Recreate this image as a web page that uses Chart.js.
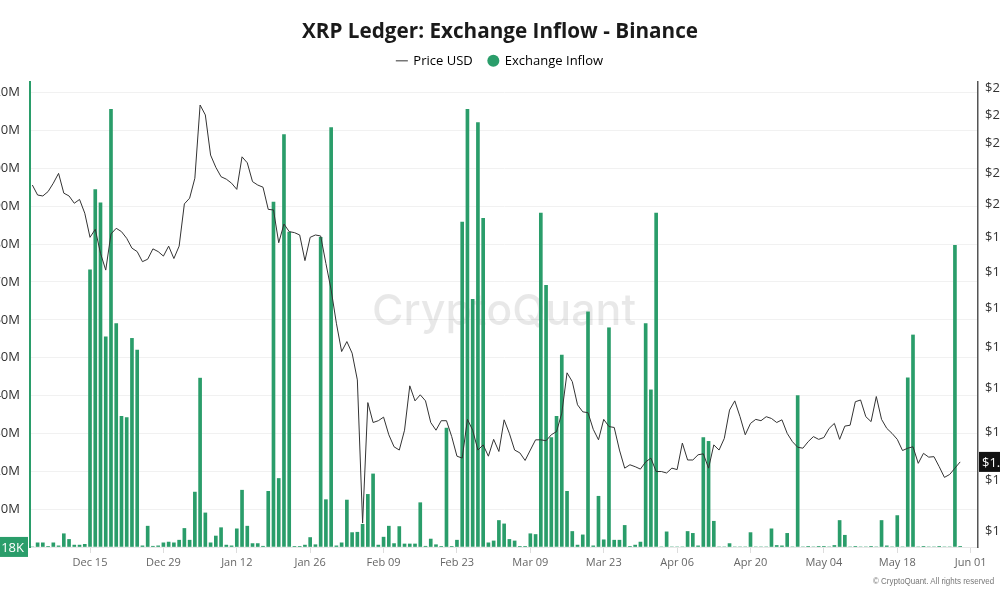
<!DOCTYPE html>
<html><head><meta charset="utf-8">
<script src="https://cdn.jsdelivr.net/npm/chart.js@4.4.1/dist/chart.umd.min.js"></script>
<style>
html,body{margin:0;padding:0;background:#fff;overflow:hidden;width:1000px;height:600px}
#frame{position:relative;width:1000px;height:600px;overflow:hidden;background:#fff}
#wrap{position:absolute;left:-60px;top:0;width:1120px;height:600px}
#foot{position:absolute;left:873px;top:575px;font:9.5px 'Liberation Sans',Arial,sans-serif;color:#777;white-space:nowrap;transform:scaleX(0.84);transform-origin:left top}
</style></head><body>
<div id="frame"><div id="wrap"><canvas id="c"></canvas></div><div id="foot">© CryptoQuant. All rights reserved</div></div>
<script>
const startDate = '2025-12-04';
const axisOrigin = '2025-12-15';
const xTickLabels = ['Dec 15','Dec 29','Jan 12','Jan 26','Feb 09','Feb 23','Mar 09','Mar 23','Apr 06','Apr 20','May 04','May 18','Jun 01'];
const leftTicksM = [0,10,20,30,40,50,60,70,80,90,100,110,120];
const rightTicks = [1.2,1.3,1.4,1.5,1.6,1.7,1.8,1.9,2.0,2.1,2.2,2.3,2.4];

// Exchange inflow, millions XRP, one value per day from startDate
const inflowM = [0,
1.1,1.1,0.1,1.1,0.3,3.5,2.0,0.5,0.5,0.7,
73.2,94.4,90.9,55.5,115.6,59.0,34.5,34.2,55.1,52.0,
0.3,5.5,0.2,0.3,1.1,1.3,1.1,1.8,4.9,1.8,
14.5,44.6,9.0,1.1,2.9,5.1,0.5,0.3,4.8,15.0,
5.5,0.9,0.9,0.2,14.7,91.1,18.1,108.9,83.2,0.1,
0.1,0.5,2.5,0.6,81.8,12.5,110.8,0.3,1.1,12.4,
3.8,3.9,6.0,13.9,19.3,0.5,2.6,5.5,0.9,5.4,
0.8,0.8,0.8,11.7,0.2,2.1,0.6,0.1,31.4,0.1,
1.8,85.8,115.6,65.4,112.1,86.8,1.1,1.6,7.0,6.1,
2.0,1.6,0.1,0.1,3.5,3.3,88.2,69.1,28.9,34.5,
50.7,14.7,4.1,0.5,3.2,62.1,0.3,13.4,1.9,57.9,
1.8,1.8,5.7,0.1,0.5,1.3,59.0,41.5,88.2,0,
4.0,0,0,0,4.1,3.6,0.3,28.9,27.9,6.8,
0,0,0.9,0,0,0,3.8,0,0,0,
4.8,0.4,0.3,3.6,0,40.0,0,0.1,0,0.1,
0.1,0,0.4,7.0,3.1,0,0.1,0,0,0.1,
0,7.0,0.3,0,8.3,0,44.7,56.0,0,0.1,
0,0,0.1,0,0,79.7,0.018];

// XRP price in USD, one value per day from startDate
const priceUSD = [2.062,
2.030,2.027,2.041,2.068,2.100,2.036,2.027,2.004,2.016,1.973,
1.900,1.924,1.853,1.805,1.910,1.927,1.917,1.897,1.868,1.858,
1.829,1.836,1.866,1.858,1.845,1.874,1.838,1.874,2.002,2.020,
2.084,2.337,2.301,2.161,2.120,2.089,2.081,2.068,2.048,2.155,
2.135,2.073,2.062,2.055,1.985,1.983,1.884,1.940,1.917,1.914,
1.907,1.832,1.900,1.907,1.904,1.824,1.750,1.661,1.589,1.614,
1.585,1.520,1.215,1.467,1.422,1.426,1.434,1.395,1.369,1.362,
1.405,1.506,1.471,1.485,1.471,1.422,1.405,1.426,1.426,1.391,
1.349,1.345,1.429,1.405,1.362,1.373,1.349,1.385,1.359,1.428,
1.398,1.362,1.356,1.340,1.362,1.384,1.384,1.382,1.395,1.402,
1.443,1.537,1.516,1.462,1.446,1.444,1.407,1.384,1.429,1.413,
1.411,1.362,1.324,1.331,1.327,1.322,1.337,1.345,1.317,1.317,
1.314,1.324,1.321,1.377,1.341,1.341,1.352,1.354,1.324,1.373,
1.362,1.387,1.450,1.471,1.435,1.395,1.420,1.429,1.426,1.435,
1.431,1.422,1.428,1.398,1.380,1.368,1.366,1.380,1.391,1.385,
1.389,1.409,1.420,1.385,1.414,1.416,1.469,1.473,1.435,1.424,
1.481,1.429,1.409,1.398,1.385,1.361,1.366,1.369,1.334,1.355,
1.347,1.348,1.327,1.305,1.311,1.324,1.337];

const green = '#2a9d6a';
const DAY = 86400000;
const t0 = Date.parse(startDate + 'T00:00:00Z');
const tO = Date.parse(axisOrigin + 'T00:00:00Z');
const dayX = inflowM.map((_, k) => Math.round((t0 + k * DAY - tO) / DAY));
const barData = inflowM.map((v, k) => ({x: dayX[k], y: v}));
const lineData = priceUSD.map((v, k) => ({x: dayX[k], y: v}));
const xTickDays = xTickLabels.map((_, k) => 14 * k);

const fmtInflow = v => v >= 1 ? v.toFixed(1) + 'M' : Math.round(v * 1000) + 'K';

const overlay = {
  id: 'overlay',
  beforeDatasetsDraw(chart) {
    const {ctx, chartArea: a} = chart;
    ctx.save();
    ctx.font = '500 43px Inter, "Open Sans", sans-serif';
    ctx.fillStyle = 'rgba(0,0,0,0.09)';
    ctx.textAlign = 'center';
    ctx.textBaseline = 'middle';
    ctx.fillText('CryptoQuant', (a.left + a.right) / 2, (a.top + a.bottom) / 2 - 2);
    ctx.restore();
  },
  afterDraw(chart) {
    const {ctx, chartArea: a, scales} = chart;
    ctx.save();
    const lastIn = inflowM[inflowM.length - 1];
    const yIn = scales.y.getPixelForValue(lastIn);
    ctx.fillStyle = green;
    ctx.fillRect(a.left - 64, yIn - 10, 62, 20);
    ctx.fillStyle = '#fff';
    ctx.font = '13px "Open Sans", sans-serif';
    ctx.textAlign = 'right';
    ctx.textBaseline = 'middle';
    ctx.fillText(fmtInflow(lastIn), a.left - 6, yIn + 1);
    const lastP = priceUSD[priceUSD.length - 1];
    const yP = scales.y1.getPixelForValue(lastP);
    ctx.fillStyle = '#111';
    ctx.fillRect(a.right + 1, yP - 10, 70, 20);
    ctx.fillStyle = '#fff';
    ctx.textAlign = 'left';
    ctx.fillText('$' + lastP.toFixed(2), a.right + 4, yP + 1);
    ctx.restore();
  }
};

new Chart(document.getElementById('c'), {
  type: 'bar',
  data: {
    datasets: [
      {type: 'line', label: 'Price USD', data: lineData, xAxisID: 'x', yAxisID: 'y1',
       borderColor: '#333', borderWidth: 1, pointRadius: 0, tension: 0, fill: false, order: 0},
      {type: 'bar', label: 'Exchange Inflow', data: barData, xAxisID: 'x', yAxisID: 'y',
       backgroundColor: green, borderWidth: 0, barThickness: 3, order: 1}
    ]
  },
  options: {
    responsive: true, maintainAspectRatio: false, animation: false, devicePixelRatio: 1,
    layout: {padding: 0},
    plugins: {
      tooltip: {enabled: false},
      title: {display: true, text: 'XRP Ledger: Exchange Inflow - Binance', color: '#1a1a1a',
        font: {family: '"Open Sans", sans-serif', size: 20.7, weight: 'bold'}, padding: {top: 20, bottom: 4}},
      legend: {display: true, position: 'top',
        labels: {usePointStyle: true, boxWidth: 10, boxHeight: 8.5, padding: 5.5, color: '#333',
          font: {family: '"Open Sans", sans-serif', size: 13},
          generateLabels: () => [
            {text: 'Price USD   ', pointStyle: 'line', strokeStyle: '#333', fillStyle: '#333', lineWidth: 1, hidden: false, datasetIndex: 0},
            {text: 'Exchange Inflow', pointStyle: 'circle', strokeStyle: green, fillStyle: green, lineWidth: 0, hidden: false, datasetIndex: 1}
          ]}}
    },
    scales: {
      gap: {type: 'linear', position: 'top', display: true,
        afterFit: s => { s.height = 4.7; },
        grid: {display: false, drawTicks: false}, ticks: {display: false}, border: {display: false}},
      x: {type: 'linear', min: -11.45, max: 169.4, offset: false,
        afterFit: s => { s.height = 53; },
        afterBuildTicks: s => { s.ticks = xTickDays.map(v => ({value: v})); },
        ticks: {callback: (v, i) => xTickLabels[i], autoSkip: false, maxRotation: 0, padding: 3, color: '#666',
          font: {family: '"Open Sans", sans-serif', size: 11}},
        grid: {display: true, offset: false, drawOnChartArea: false, drawTicks: true, tickLength: 6, color: '#ddd'},
        border: {display: true, color: '#e8e8e8'}},
      y: {type: 'linear', position: 'left', min: 0, max: 122.8,
        afterFit: s => { s.width = 90; },
        afterBuildTicks: s => { s.ticks = leftTicksM.map(v => ({value: v})); },
        ticks: {callback: v => v === 0 ? '' : v + 'M', autoSkip: false, padding: 10, color: '#333',
          font: {family: '"Open Sans", sans-serif', size: 13}},
        grid: {color: '#f1f1f1', drawTicks: false},
        border: {color: green, width: 2}},
      y1: {type: 'logarithmic', position: 'right', min: 1.1703, max: 2.4226,
        afterFit: s => { s.width = 82; },
        afterBuildTicks: s => { s.ticks = rightTicks.map(v => ({value: v})); },
        ticks: {callback: v => '$' + Number(v).toFixed(2), autoSkip: false, padding: 7, color: '#333',
          font: {family: '"Open Sans", sans-serif', size: 13}},
        grid: {drawOnChartArea: false, drawTicks: false},
        border: {color: '#555', width: 1.5}}
    }
  },
  plugins: [overlay]
});
</script>
</body></html>
